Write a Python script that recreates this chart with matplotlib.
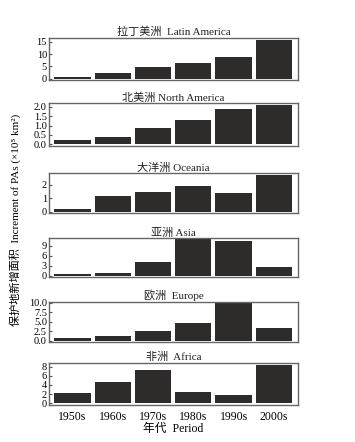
import matplotlib
matplotlib.use('Agg')
import matplotlib.pyplot as plt

periods = ['1950s', '1960s', '1970s', '1980s', '1990s', '2000s']

titles = ['拉丁美洲  Latin America', '北美洲 North America', '大洋洲 Oceania',
          '亚洲 Asia', '欧洲  Europe', '非洲  Africa']

latin_america = [0.7, 2.2, 4.7, 6.2, 8.7, 15.7]
north_america = [0.21, 0.37, 0.88, 1.29, 1.89, 2.07]
oceania = [0.18, 1.19, 1.44, 1.9, 1.36, 2.72]
asia = [0.6, 0.9, 4.1, 10.9, 10.5, 2.7]
europe = [0.6, 1.2, 2.5, 4.7, 9.84, 3.4]
africa = [2.3, 4.6, 7.2, 2.5, 1.8, 8.3]

series = [latin_america, north_america, oceania, asia, europe, africa]
yticks = [[0, 5, 10, 15], [0, 0.5, 1.0, 1.5, 2.0], [0, 1, 2],
          [0, 3, 6, 9], [0, 2.5, 5.0, 7.5, 10.0], [0, 2, 4, 6, 8]]
ylims = [(-0.5, 16.5), (-0.07, 2.18), (-0.12, 2.84),
         (-0.5, 11.2), (-0.26, 10.26), (-0.36, 8.86)]
tickfmt = ['{:.0f}', '{:.1f}', '{:.0f}', '{:.0f}', '{:.1f}', '{:.0f}']

# axes boxes in pixels (top, bottom)
boxes = [(38, 80), (103.3, 145.7), (173.3, 213.3), (238.3, 277.3),
         (301.7, 341.7), (362.7, 405)]

W, H = 355, 442
fam = ['Liberation Serif', 'Noto Sans CJK SC']
fig = plt.figure(figsize=(W / 100, H / 100), dpi=100)
fig.patch.set_facecolor('white')

left, right = 49, 298
for i, vals in enumerate(series):
    top, bot = boxes[i]
    ax = fig.add_axes([left / W, 1 - bot / H, (right - left) / W, (bot - top) / H])
    ax.bar(range(len(periods)), vals, width=0.9, color='#2e2b2b')
    ax.set_xlim(-0.58, 5.6)
    ax.set_ylim(*ylims[i])
    ax.set_yticks(yticks[i])
    ax.set_yticklabels([tickfmt[i].format(t) for t in yticks[i]], family=fam, fontsize=7.5)
    ax.tick_params(axis='y', direction='in', length=2, pad=1.5, color='#555555')
    ax.set_title(titles[i], family=fam, fontsize=8, pad=2, color='#222222')
    for s in ax.spines.values():
        s.set_color('#666666')
        s.set_linewidth(1.0)
    if i == len(series) - 1:
        ax.set_xticks(range(len(periods)))
        ax.set_xticklabels(periods, family=fam, fontsize=8.5)
        ax.tick_params(axis='x', length=0, pad=4)
        ax.set_xlabel('年代  Period', family=fam, fontsize=8.5, labelpad=0)
    else:
        ax.set_xticks([])

fig.text(15 / W, 1 - 220 / H, '保护地新增面积  Increment of PAs (×10⁵ km²)',
         rotation=90, ha='center', va='center', family=fam, fontsize=8)

fig.savefig('out.png', dpi=100)
